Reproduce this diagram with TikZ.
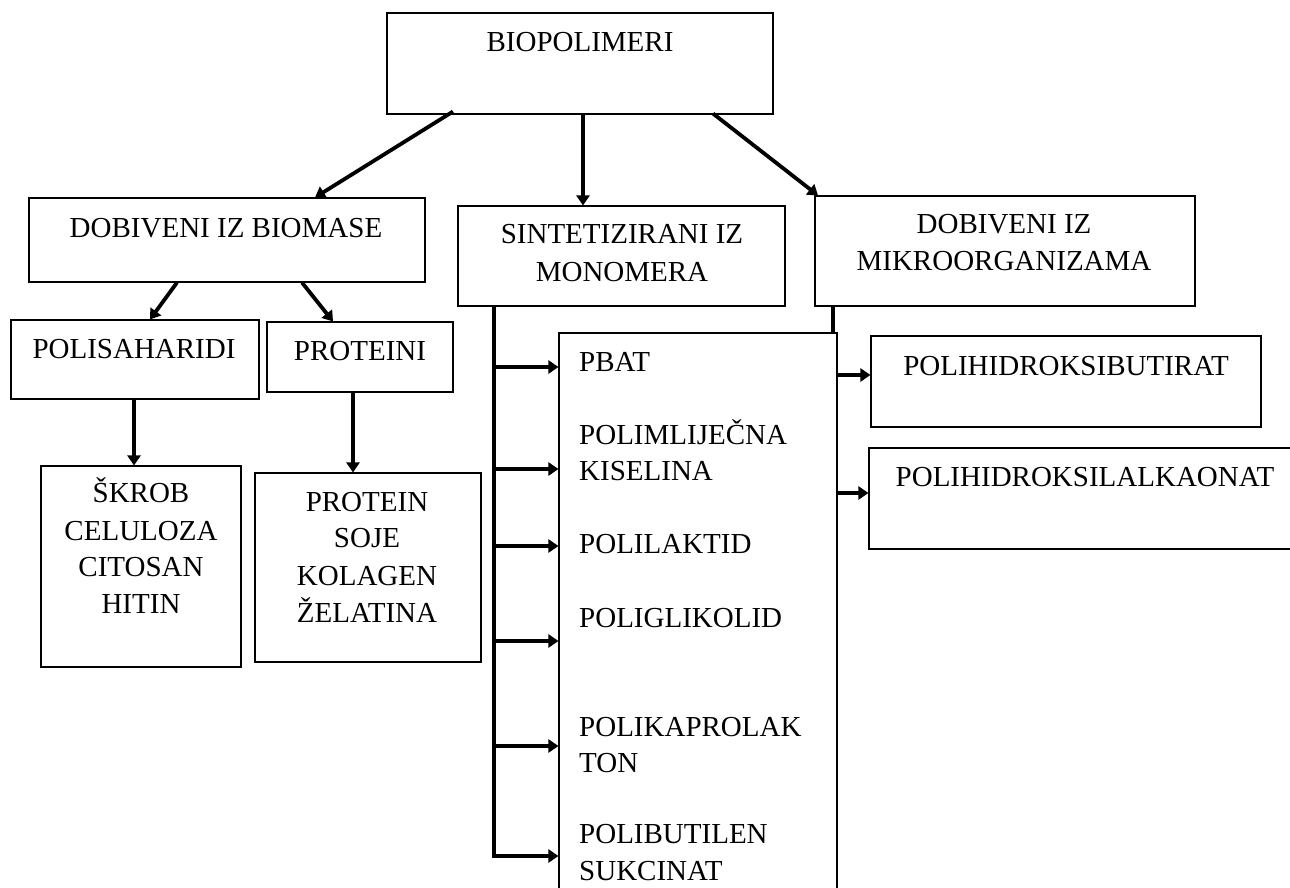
\documentclass[tikz,border=0pt]{standalone}
\usepackage{fontspec}
\setmainfont{Liberation Serif}
\usetikzlibrary{arrows.meta,calc}
\begin{document}
\begin{tikzpicture}[x=1pt,y=-1pt,
  box/.style={draw=black,line width=1.1pt,fill=white,inner sep=0pt,rectangle},
  lbl/.style={inner sep=0pt,font=\fontsize{29}{35}\selectfont,anchor=base},
  lbll/.style={lbl,anchor=base west},
  conn/.style={draw=black,line width=3.8pt},
  arr/.style={conn,-{Triangle[length=10pt,width=13pt]}}]
\clip (0,0) rectangle (1290,888);
\fill[white] (0,0) rectangle (1290,888);
% boxes
\node[box,minimum width=386pt,minimum height=101pt] (bio) at (580,63.5) {};
\node[box,minimum width=396pt,minimum height=84pt] (bm) at (227,240) {};
\node[box,minimum width=327pt,minimum height=100pt] (sin) at (621.5,256) {};
\node[box,minimum width=380pt,minimum height=110pt] (mik) at (1005,251) {};
\node[box,minimum width=248pt,minimum height=79pt] (pol) at (135,359.5) {};
\node[box,minimum width=186pt,minimum height=70pt] (pro) at (360,357) {};
\node[box,minimum width=200pt,minimum height=201pt] (skr) at (141,566.5) {};
\node[box,minimum width=226pt,minimum height=189pt] (pts) at (368,567.5) {};
\node[box,minimum width=390pt,minimum height=91pt] (phb) at (1066,381.5) {};
\node[box,minimum width=432pt,minimum height=101pt] (pha) at (1085,498.5) {};
% connector from mikroorganizama box, partly hidden by list box
\coordinate (mk) at ([xshift=-172pt]mik.south);
\draw[conn] (mk) -- (mk |- 0,493);
\node[box,minimum width=278pt,minimum height=580pt] (lst) at (698,623) {};
% texts
\node[lbl] (t0) at (580,52) {BIOPOLIMERI};
\node[lbl] (t1) at (226,237) {DOBIVENI IZ BIOMASE};
\node[lbl] (t2a) at (622,243) {SINTETIZIRANI IZ};
\node[lbl] (t2b) at (622,281) {MONOMERA};
\node[lbl] (t3a) at (1004,233) {DOBIVENI IZ};
\node[lbl] (t3b) at (1004,270) {MIKROORGANIZAMA};
\node[lbl] (t4) at (134,358) {POLISAHARIDI};
\node[lbl] (t5) at (360,360) {PROTEINI};
\node[lbl] (t6a) at (141,502) {ŠKROB};
\node[lbl] (t6b) at (141,540) {CELULOZA};
\node[lbl] (t6c) at (141,576) {CITOSAN};
\node[lbl] (t6d) at (141,613) {HITIN};
\node[lbl] (t7a) at (367,511) {PROTEIN};
\node[lbl] (t7b) at (367,547) {SOJE};
\node[lbl] (t7c) at (367,585) {KOLAGEN};
\node[lbl] (t7d) at (367,622) {ŽELATINA};
\node[lbll] (l1) at (579,371) {PBAT};
\node[lbll] (l2a) at (579,444) {POLIMLIJEČNA};
\node[lbll] (l2b) at (579,480) {KISELINA};
\node[lbll] (l3) at (579,553) {POLILAKTID};
\node[lbll] (l4) at (579,627) {POLIGLIKOLID};
\node[lbll] (l5a) at (579,736) {POLIKAPROLAK};
\node[lbll] (l5b) at (579,772) {TON};
\node[lbll] (l6a) at (579,843) {POLIBUTILEN};
\node[lbll] (l6b) at (579,880) {SUKCINAT};
\node[lbl] (t8) at (1066,375) {POLIHIDROKSIBUTIRAT};
\node[lbl] (t9) at (1085,486) {POLIHIDROKSILALKAONAT};
% connectors
\draw[arr] ([xshift=-127pt,yshift=3pt]bio.south) -- ([xshift=88pt]bm.north);
\draw[arr] ([xshift=3pt]bio.south) -- ([xshift=3pt]bio.south |- sin.north);
\draw[arr] ([xshift=133pt,yshift=1pt]bio.south) -- ([xshift=-187pt]mik.north);
\draw[arr] ([xshift=-50pt]bm.south) -- ([xshift=15pt]pol.north);
\draw[arr] ([xshift=75pt]bm.south) -- ([xshift=-27pt]pro.north);
\draw[arr] ([xshift=-1pt]pol.south) -- ([xshift=-1pt]pol.south |- skr.north);
\draw[arr] ([xshift=-7pt]pro.south) -- ([xshift=-7pt]pro.south |- pts.north);
\coordinate (sp) at ([xshift=-127.5pt]sin.south);
\draw[arr,line join=miter] (sp) -- (sp |- 0,856) -- (lst.west |- 0,856);
\foreach \yy in {367,469,546,641,746}{
  \draw[arr] (sp |- 0,\yy) -- (lst.west |- 0,\yy);
}
\draw[arr] (lst.east |- 0,375) -- (phb.west |- 0,375);
\draw[arr] (lst.east |- 0,493) -- (pha.west |- 0,493);
\end{tikzpicture}
\end{document}
